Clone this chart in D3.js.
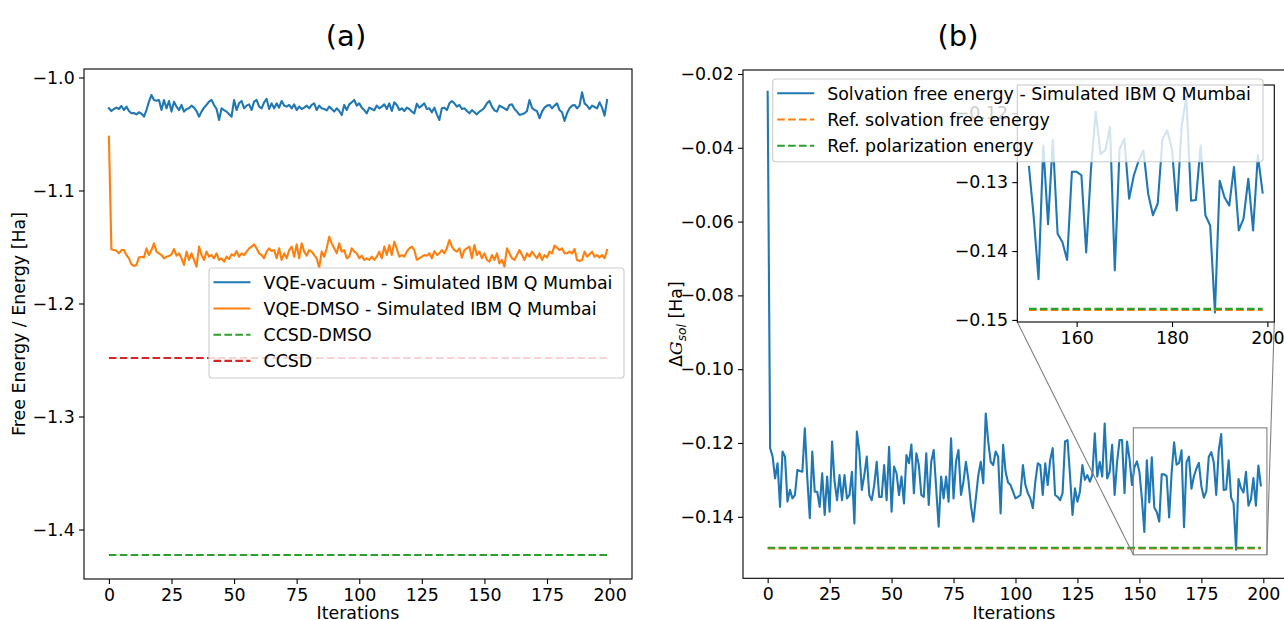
<!DOCTYPE html>
<html><head><meta charset="utf-8">
<script src="https://cdn.jsdelivr.net/npm/d3@7"></script>
<style>
body{margin:0;background:#fff}
svg{display:block}
text{font-family:"DejaVu Sans",sans-serif;fill:#000}
</style>
</head><body>
<svg id="fig" width="1284" height="620"></svg>
<script>
// ---- data -------------------------------------------------------------
const iterations = d3.range(200);

const vqeVacuum = [
-1.0273,-1.0297,-1.0279,-1.0267,-1.0279,-1.0252,-1.0288,-1.0258,-1.0297,-1.0317,
-1.0314,-1.0326,-1.0308,-1.0320,-1.0347,-1.0288,-1.0214,-1.0155,-1.0199,-1.0205,
-1.0199,-1.0288,-1.0199,-1.0273,-1.0208,-1.0302,-1.0214,-1.0258,-1.0288,-1.0243,
-1.0302,-1.0279,-1.0273,-1.0249,-1.0267,-1.0297,-1.0347,-1.0302,-1.0267,-1.0243,
-1.0214,-1.0199,-1.0243,-1.0279,-1.0376,-1.0273,-1.0288,-1.0302,-1.0326,-1.0347,
-1.0199,-1.0288,-1.0229,-1.0208,-1.0273,-1.0249,-1.0238,-1.0288,-1.0214,-1.0199,
-1.0258,-1.0273,-1.0220,-1.0190,-1.0279,-1.0229,-1.0273,-1.0229,-1.0267,-1.0208,
-1.0249,-1.0258,-1.0243,-1.0273,-1.0238,-1.0288,-1.0258,-1.0279,-1.0267,-1.0249,
-1.0273,-1.0243,-1.0229,-1.0288,-1.0249,-1.0273,-1.0279,-1.0291,-1.0258,-1.0279,
-1.0302,-1.0273,-1.0297,-1.0332,-1.0243,-1.0288,-1.0238,-1.0220,-1.0199,-1.0249,
-1.0229,-1.0267,-1.0288,-1.0317,-1.0267,-1.0279,-1.0291,-1.0249,-1.0273,-1.0258,
-1.0238,-1.0279,-1.0229,-1.0297,-1.0220,-1.0243,-1.0288,-1.0273,-1.0297,-1.0267,
-1.0279,-1.0302,-1.0317,-1.0232,-1.0267,-1.0249,-1.0229,-1.0279,-1.0273,-1.0308,
-1.0267,-1.0326,-1.0376,-1.0273,-1.0267,-1.0288,-1.0229,-1.0208,-1.0229,-1.0258,
-1.0243,-1.0279,-1.0273,-1.0297,-1.0317,-1.0288,-1.0308,-1.0326,-1.0302,-1.0288,
-1.0267,-1.0229,-1.0208,-1.0258,-1.0291,-1.0302,-1.0249,-1.0261,-1.0273,-1.0288,
-1.0243,-1.0238,-1.0279,-1.0302,-1.0332,-1.0326,-1.0317,-1.0297,-1.0199,-1.0267,
-1.0288,-1.0297,-1.0361,-1.0302,-1.0267,-1.0249,-1.0243,-1.0273,-1.0249,-1.0229,
-1.0288,-1.0308,-1.0385,-1.0317,-1.0273,-1.0249,-1.0243,-1.0273,-1.0249,-1.0131,
-1.0229,-1.0249,-1.0279,-1.0249,-1.0261,-1.0273,-1.0220,-1.0267,-1.0338,-1.0199
];

const vqeDmso = [
-1.0524,-1.1521,-1.1527,-1.1533,-1.1556,-1.1527,-1.1527,-1.1571,-1.1600,-1.1654,
-1.1668,-1.1659,-1.1594,-1.1586,-1.1594,-1.1512,-1.1571,-1.1527,-1.1468,-1.1541,
-1.1556,-1.1571,-1.1600,-1.1586,-1.1580,-1.1565,-1.1518,-1.1577,-1.1556,-1.1600,
-1.1659,-1.1541,-1.1615,-1.1556,-1.1615,-1.1674,-1.1497,-1.1571,-1.1615,-1.1541,
-1.1586,-1.1571,-1.1600,-1.1556,-1.1615,-1.1600,-1.1630,-1.1586,-1.1606,-1.1565,
-1.1577,-1.1536,-1.1586,-1.1556,-1.1571,-1.1541,-1.1512,-1.1497,-1.1477,-1.1512,
-1.1556,-1.1571,-1.1600,-1.1541,-1.1512,-1.1536,-1.1527,-1.1600,-1.1512,-1.1615,
-1.1556,-1.1600,-1.1527,-1.1497,-1.1586,-1.1477,-1.1600,-1.1468,-1.1541,-1.1577,
-1.1527,-1.1541,-1.1571,-1.1600,-1.1683,-1.1541,-1.1586,-1.1512,-1.1409,-1.1468,
-1.1512,-1.1556,-1.1468,-1.1541,-1.1527,-1.1600,-1.1586,-1.1512,-1.1541,-1.1556,
-1.1600,-1.1577,-1.1615,-1.1600,-1.1615,-1.1586,-1.1615,-1.1586,-1.1541,-1.1600,
-1.1497,-1.1571,-1.1482,-1.1571,-1.1453,-1.1518,-1.1586,-1.1571,-1.1586,-1.1541,
-1.1512,-1.1497,-1.1527,-1.1615,-1.1600,-1.1586,-1.1571,-1.1577,-1.1556,-1.1600,
-1.1536,-1.1571,-1.1556,-1.1527,-1.1556,-1.1512,-1.1438,-1.1497,-1.1527,-1.1541,
-1.1512,-1.1594,-1.1527,-1.1512,-1.1497,-1.1600,-1.1482,-1.1571,-1.1541,-1.1600,
-1.1556,-1.1615,-1.1630,-1.1571,-1.1615,-1.1556,-1.1645,-1.1615,-1.1674,-1.1512,
-1.1556,-1.1600,-1.1615,-1.1571,-1.1527,-1.1571,-1.1615,-1.1556,-1.1586,-1.1541,
-1.1571,-1.1600,-1.1556,-1.1615,-1.1571,-1.1594,-1.1541,-1.1556,-1.1488,-1.1506,
-1.1527,-1.1512,-1.1556,-1.1556,-1.1541,-1.1556,-1.1518,-1.1615,-1.1624,-1.1615,
-1.1541,-1.1586,-1.1565,-1.1541,-1.1586,-1.1571,-1.1594,-1.1571,-1.1600,-1.1527
];

const ccsdDmso = -1.4226;
const ccsdVacuum = -1.2482;

const solvationEnergy = [
-0.0248,-0.1214,-0.1237,-0.1296,-0.1255,-0.1373,-0.1223,-0.1237,-0.1359,-0.1327,
-0.1350,-0.1341,-0.1273,-0.1276,-0.1278,-0.1160,-0.1296,-0.1404,-0.1223,-0.1332,
-0.1332,-0.1373,-0.1282,-0.1395,-0.1291,-0.1386,-0.1196,-0.1305,-0.1355,-0.1287,
-0.1355,-0.1287,-0.1350,-0.1341,-0.1278,-0.1418,-0.1169,-0.1223,-0.1327,-0.1287,
-0.1237,-0.1341,-0.1355,-0.1314,-0.1251,-0.1346,-0.1346,-0.1260,-0.1355,-0.1210,
-0.1386,-0.1264,-0.1282,-0.1341,-0.1291,-0.1364,-0.1233,-0.1255,-0.1204,-0.1336,
-0.1228,-0.1260,-0.1341,-0.1346,-0.1228,-0.1368,-0.1251,-0.1219,-0.1323,-0.1427,
-0.1291,-0.1350,-0.1291,-0.1359,-0.1187,-0.1350,-0.1251,-0.1219,-0.1341,-0.1305,
-0.1251,-0.1300,-0.1368,-0.1413,-0.1350,-0.1287,-0.1251,-0.1309,-0.1120,-0.1196,
-0.1251,-0.1260,-0.1223,-0.1237,-0.1391,-0.1205,-0.1278,-0.1307,-0.1314,-0.1332,
-0.1350,-0.1346,-0.1341,-0.1260,-0.1314,-0.1336,-0.1350,-0.1377,-0.1305,-0.1255,
-0.1260,-0.1341,-0.1255,-0.1314,-0.1246,-0.1214,-0.1341,-0.1346,-0.1355,-0.1336,
-0.1196,-0.1192,-0.1287,-0.1395,-0.1323,-0.1359,-0.1332,-0.1260,-0.1300,-0.1287,
-0.1305,-0.1287,-0.1174,-0.1291,-0.1251,-0.1291,-0.1147,-0.1296,-0.1278,-0.1205,
-0.1341,-0.1251,-0.1192,-0.1192,-0.1336,-0.1196,-0.1242,-0.1314,-0.1265,-0.1250,
-0.1278,-0.1351,-0.1441,-0.1247,-0.1361,-0.1239,-0.1375,-0.1387,-0.1413,-0.1285,
-0.1285,-0.1290,-0.1402,-0.1281,-0.1198,-0.1259,-0.1254,-0.1220,-0.1428,-0.1252,
-0.1237,-0.1324,-0.1290,-0.1269,-0.1254,-0.1317,-0.1348,-0.1331,-0.1237,-0.1225,
-0.1252,-0.1341,-0.1220,-0.1176,-0.1327,-0.1326,-0.1247,-0.1348,-0.1363,-0.1489,
-0.1298,-0.1322,-0.1334,-0.1278,-0.1370,-0.1353,-0.1295,-0.1370,-0.1261,-0.1315
];
const refSolvation = -0.14855;
const refPolarization = -0.1484;
const insetStart = 150;   // first iteration shown in the zoomed inset

const xTicks = [0, 25, 50, 75, 100, 125, 150, 175, 200];
const yTicksA = [-1.0, -1.1, -1.2, -1.3, -1.4];
const yTicksB = [-0.02, -0.04, -0.06, -0.08, -0.10, -0.12, -0.14];
const xTicksInset = [160, 180, 200];
const yTicksInset = [-0.12, -0.13, -0.14, -0.15];

const legendA = [
  {label: "VQE-vacuum - Simulated IBM Q Mumbai", color: "#1f77b4", dash: null},
  {label: "VQE-DMSO - Simulated IBM Q Mumbai", color: "#ff7f0e", dash: null},
  {label: "CCSD-DMSO", color: "#2ca02c", dash: "7.6,3.3"},
  {label: "CCSD", color: "#d62728", dash: "7.6,3.3"}
];
const legendB = [
  {label: "Solvation free energy - Simulated IBM Q Mumbai", color: "#1f77b4", dash: null},
  {label: "Ref. solvation free energy", color: "#ff7f0e", dash: "7.6,3.3"},
  {label: "Ref. polarization energy", color: "#2ca02c", dash: "7.6,3.3"}
];

// ---- layout -------------------------------------------------------------
const FS = 17.4;
const LW = 2.1;
const DASH = "7.6,3.3";
const TICK = 5.0;
const boxA = {l: 84, r: 632, t: 69, b: 579};
const boxB = {l: 743, r: 1285.5, t: 70, b: 578.3};
const boxI = {l: 1017.3, r: 1274.3, t: 85, b: 322};

const svg = d3.select("#fig");

const xA = d3.scaleLinear().domain([-9.95, 208.95]).range([boxA.l, boxA.r]);
const yA = d3.scaleLinear().domain([-1.4438, -0.9925]).range([boxA.b, boxA.t]);
const xB = d3.scaleLinear().domain([-9.95, 208.95]).range([boxB.l, boxB.r]);
const yB = d3.scaleLinear().domain([-0.15667, -0.01892]).range([boxB.b, boxB.t]);
const xI = d3.scaleLinear().domain([147.55, 201.45]).range([boxI.l, boxI.r]);
const yI = d3.scaleLinear().domain([-0.1503, -0.1159]).range([boxI.b, boxI.t]);

function axes(g, x, y, box, xt, yt, xf, yf) {
  const ax = g.append("g").attr("transform", `translate(0,${box.b})`)
    .call(d3.axisBottom(x).tickValues(xt).tickFormat(xf).tickSize(TICK).tickPadding(4.3));
  const ay = g.append("g").attr("transform", `translate(${box.l},0)`)
    .call(d3.axisLeft(y).tickValues(yt).tickFormat(yf).tickSize(TICK).tickPadding(4.3));
  [ax, ay].forEach(a => {
    a.select(".domain").remove();
    a.attr("font-family", null).attr("font-size", null);
    a.selectAll("line").attr("stroke", "#000").attr("stroke-width", 1.1);
    a.selectAll("text").attr("font-size", FS).attr("fill", "#000");
  });
}

function spines(g, box) {
  g.append("rect").attr("x", box.l).attr("y", box.t)
    .attr("width", box.r - box.l).attr("height", box.b - box.t)
    .attr("fill", "none").attr("stroke", "#000").attr("stroke-width", 1.1);
}

function series(g, x, y, xs, ys, color, dash) {
  g.append("path").datum(ys)
    .attr("d", d3.line().x((d, i) => x(xs[i])).y(d => y(d)))
    .attr("fill", "none").attr("stroke", color).attr("stroke-width", LW)
    .attr("stroke-linejoin", "round").attr("stroke-linecap", dash ? "butt" : "square")
    .attr("stroke-dasharray", dash);
}

function hline(g, x, y, x0, x1, v, color) {
  series(g, x, y, [x0, x1], [v, v], color, DASH);
}

function legend(g, items, left, top, right, bottom) {
  g.append("rect").attr("x", left).attr("y", top)
    .attr("width", right - left).attr("height", bottom - top).attr("rx", 3)
    .attr("fill", "#fff").attr("fill-opacity", 0.8)
    .attr("stroke", "#cccccc").attr("stroke-width", 1.1);
  items.forEach((it, k) => {
    const cy = top + 14.3 + k * 26.2;
    g.append("line").attr("x1", left + 4.5).attr("x2", left + 41.5)
      .attr("y1", cy).attr("y2", cy)
      .attr("stroke", it.color).attr("stroke-width", LW)
      .attr("stroke-dasharray", it.dash);
    g.append("text").attr("x", left + 54.5).attr("y", cy)
      .attr("dy", "0.36em").attr("font-size", FS).text(it.label);
  });
}

const fmt1 = d3.format(".1f");
const fmt2 = d3.format(".2f");
const fmtInt = d3.format("d");

// ---- panel (a) ----------------------------------------------------------
const gA = svg.append("g");
series(gA, xA, yA, iterations, vqeVacuum, "#1f77b4");
series(gA, xA, yA, iterations, vqeDmso, "#ff7f0e");
hline(gA, xA, yA, 0, 199, ccsdDmso, "#2ca02c");
hline(gA, xA, yA, 0, 199, ccsdVacuum, "#d62728");
spines(gA, boxA);
axes(gA, xA, yA, boxA, xTicks, yTicksA, fmtInt, fmt1);
legend(gA, legendA, 209, 268, 624, 378);
gA.append("text").attr("x", 358).attr("y", 619)
  .attr("text-anchor", "middle").attr("font-size", FS).text("Iterations");
gA.append("text").attr("transform", `translate(19,${(boxA.t + boxA.b) / 2}) rotate(-90)`)
  .attr("dy", "0.36em").attr("text-anchor", "middle").attr("font-size", FS).text("Free Energy / Energy [Ha]");
gA.append("text").attr("x", 346).attr("y", 46)
  .attr("text-anchor", "middle").attr("font-size", 29).text("(a)");

// ---- panel (b) ----------------------------------------------------------
const gB = svg.append("g");
series(gB, xB, yB, iterations, solvationEnergy, "#1f77b4");
hline(gB, xB, yB, 0, 199, refSolvation, "#ff7f0e");
hline(gB, xB, yB, 0, 199, refPolarization, "#2ca02c");
spines(gB, boxB);
axes(gB, xB, yB, boxB, xTicks, yTicksB, fmtInt, fmt2);
gB.append("text").attr("x", 1014).attr("y", 619)
  .attr("text-anchor", "middle").attr("font-size", FS).text("Iterations");
const yl = gB.append("text").attr("transform", `translate(676,${(boxB.t + boxB.b) / 2}) rotate(-90)`)
  .attr("dy", "0.36em").attr("text-anchor", "middle").attr("font-size", FS);
yl.append("tspan").text("Δ");
yl.append("tspan").attr("font-family", "DejaVu Serif").attr("font-style", "italic").text("G");
yl.append("tspan").attr("font-size", FS * 0.7).attr("font-style", "italic").attr("dy", 4).text("sol");
yl.append("tspan").attr("dy", -4).text(" [Ha]");
gB.append("text").attr("x", 958).attr("y", 46)
  .attr("text-anchor", "middle").attr("font-size", 29).text("(b)");

// zoom region marker and connectors
const zx0 = xB(xI.domain()[0]), zx1 = xB(xI.domain()[1]);
const zy0 = yB(yI.domain()[1]), zy1 = yB(yI.domain()[0]);
gB.append("rect").attr("x", zx0).attr("y", zy0).attr("width", zx1 - zx0).attr("height", zy1 - zy0)
  .attr("fill", "none").attr("stroke", "#808080").attr("stroke-width", 1.1);
gB.append("line").attr("x1", boxI.l).attr("y1", boxI.b).attr("x2", zx0).attr("y2", zy1)
  .attr("stroke", "#808080").attr("stroke-width", 1.1);
gB.append("line").attr("x1", boxI.r).attr("y1", boxI.b).attr("x2", zx1).attr("y2", zy1)
  .attr("stroke", "#808080").attr("stroke-width", 1.1);

// inset
const gI = svg.append("g");
gI.append("rect").attr("x", boxI.l).attr("y", boxI.t)
  .attr("width", boxI.r - boxI.l).attr("height", boxI.b - boxI.t).attr("fill", "#fff");
gI.append("clipPath").attr("id", "clipI").append("rect")
  .attr("x", boxI.l).attr("y", boxI.t).attr("width", boxI.r - boxI.l).attr("height", boxI.b - boxI.t);
const gIc = gI.append("g").attr("clip-path", "url(#clipI)");
series(gIc, xI, yI, iterations.slice(insetStart), solvationEnergy.slice(insetStart), "#1f77b4");
hline(gIc, xI, yI, insetStart, 199, refSolvation, "#ff7f0e");
hline(gIc, xI, yI, insetStart, 199, refPolarization, "#2ca02c");
spines(gI, boxI);
axes(gI, xI, yI, boxI, xTicksInset, yTicksInset, fmtInt, fmt2);

// legend of (b) sits above the inset
legend(svg.append("g"), legendB, 772.7, 79, 1263, 161.7);
</script>
</body></html>
